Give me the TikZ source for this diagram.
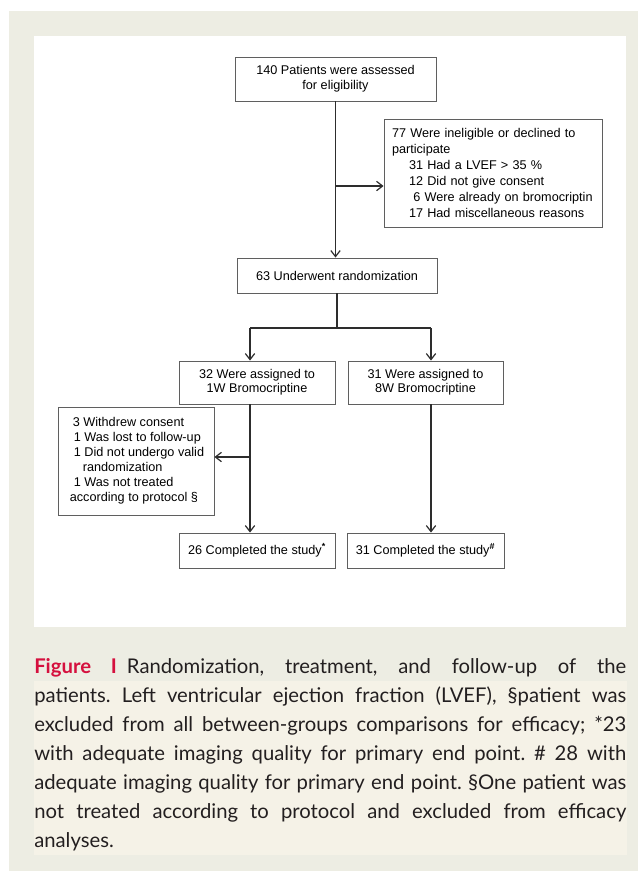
\documentclass[tikz,border=0pt]{standalone}
\usepackage{fontspec}
\setmainfont{Liberation Sans}
\newfontfamily\capfont{Lato}
\usetikzlibrary{arrows.meta}

\definecolor{pagebeige}{RGB}{237,237,227}
\definecolor{capcream}{RGB}{245,242,231}
\definecolor{figred}{RGB}{213,16,62}
\definecolor{boxline}{RGB}{95,95,95}
\definecolor{inkgray}{RGB}{45,45,45}
\definecolor{captext}{RGB}{35,31,32}

\tikzset{
  box/.style={draw=boxline, line width=0.7pt, fill=white, inner sep=0pt,
    text=black, font=\fontsize{9.5}{11.25}\selectfont},
  flow/.style={draw=inkgray, line width=0.8pt},
  flowarrow/.style={flow, -{Straight Barb[length=4.5pt,width=7pt,line width=0.9pt]}}
}

\begin{document}
\frenchspacing
\begin{tikzpicture}[x=0.75pt,y=-0.75pt]
    \useasboundingbox (0,0) rectangle (638,871);
    \fill[pagebeige] (9,11) rectangle (638,871);
    \fill[white] (34,36) rectangle (626,627);
    \fill[capcream] (34,681) rectangle (627,855);

    % boxes
    \node[box, minimum width=150.75pt, minimum height=33pt, align=center] (assess) at (335.5,79)
        {140 Patients were assessed\\for eligibility};
    \node[box, minimum width=163.5pt, minimum height=81pt, text width=151.5pt, align=left,
        font=\fontsize{9.5}{12}\selectfont] (excl) at (493,173)
        {77 Were ineligible or declined to\\
         participate\\
         \hspace*{12.75pt}31 Had a LVEF > 35 \%\\
         \hspace*{12.75pt}12 Did not give consent\\
         \hspace*{16pt}6 Were already on bromocriptin\\
         \hspace*{12.75pt}17 Had miscellaneous reasons};
    \node[box, minimum width=150pt, minimum height=26.25pt] (rand) at (337,275.5)
        {63 Underwent randomization};
    \node[box, minimum width=117pt, minimum height=32.25pt, align=center,
        font=\fontsize{9.5}{10.75}\selectfont] (grpA) at (257,382.5)
        {32 Were assigned to\\1W Bromocriptine};
    \node[box, minimum width=116.25pt, minimum height=32.25pt, align=center,
        font=\fontsize{9.5}{10.75}\selectfont] (grpB) at (425.5,382.5)
        {31 Were assigned to\\8W Bromocriptine};
    \node[box, minimum width=117pt, minimum height=81pt, align=left] (withdraw) at (136,461)
        {\hspace*{3.75pt}3 Withdrew consent\\
         \hspace*{4.5pt}1 Was lost to follow-up\\
         \hspace*{4.5pt}1 Did not undergo valid\\
         \hspace*{11.25pt}randomization\\
         \hspace*{4.5pt}1 Was not treated\\
         \hspace*{1.5pt}according to protocol \S};
    \node[box, minimum width=117pt, minimum height=26.25pt] (doneA) at (257,550.5)
        {26 Completed the study\textsuperscript{\textbf{*}}};
    \node[box, minimum width=117.75pt, minimum height=26.25pt] (doneB) at (425.5,550.5)
        {31 Completed the study\textsuperscript{\textbf{\#}}};

    % connectors
    \coordinate (excljoin) at (336,186);
    \coordinate (forkA) at (250,328);
    \coordinate (forkB) at (431,328);
    \coordinate (wdjoin) at (250,457);
    \draw[flowarrow] (assess.south) -- (assess.south |- rand.north);
    \draw[flowarrow] (excljoin) -- (excljoin -| excl.west);
    \draw[flow] (rand.south) -- (rand.south |- forkA);
    \draw[flow] (forkA) -- (forkB);
    \draw[flowarrow] (forkA) -- (forkA |- grpA.north);
    \draw[flowarrow] (forkB) -- (forkB |- grpB.north);
    \draw[flowarrow] (forkA |- grpA.south) -- (forkA |- doneA.north);
    \draw[flowarrow] (wdjoin) -- (wdjoin -| withdraw.east);
    \draw[flowarrow] (forkB |- grpB.south) -- (forkB |- doneB.north);

    % caption
    \node[anchor=north west, inner sep=0pt, text width=444pt, align=justify, text=captext,
        font=\capfont\fontsize{15.2}{21.75}\selectfont] (caption) at (34,658)
        {{\bfseries\color{figred}Figure I}\enspace Randomization, treatment, and follow-up of the\linebreak
         patients. Left ventricular ejection fraction (LVEF), \S patient was\linebreak
         excluded from all between-groups comparisons for efficacy; *23\linebreak
         with adequate imaging quality for primary end point. \# 28 with\linebreak
         adequate imaging quality for primary end point. \S One patient was\linebreak
         not treated according to protocol and excluded from efficacy\linebreak
         analyses.};
\end{tikzpicture}
\end{document}
